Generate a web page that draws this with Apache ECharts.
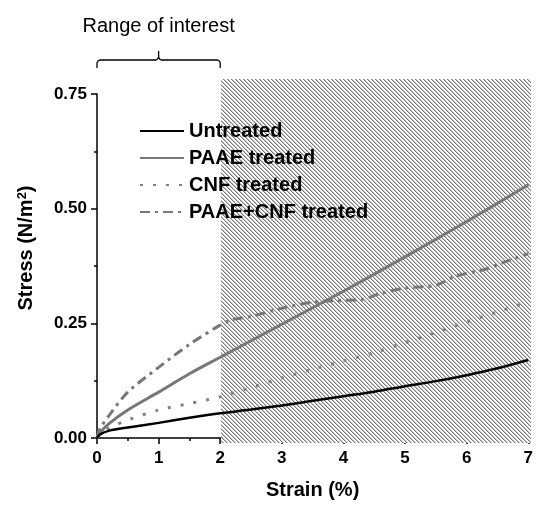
<!DOCTYPE html>
<html>
<head>
<meta charset="utf-8">
<script src="https://cdn.jsdelivr.net/npm/echarts@6/dist/echarts.min.js"></script>
<style>
  html, body { margin: 0; padding: 0; background: #fff; }
  #chart { width: 536px; height: 505px; }
</style>
</head>
<body>
<div id="chart"></div>
<script>
// strain (%) , stress (N/m2) pairs
const untreated = [[0,0],[0.05,0.008],[0.2,0.016],[0.5,0.023],[1,0.033],[1.5,0.044],[2,0.054],[2.5,0.062],[3,0.071],[3.5,0.081],[4,0.091],[4.5,0.101],[5,0.113],[5.5,0.124],[6,0.137],[6.5,0.152],[7,0.170]]
const paae = [[0,0],[0.05,0.012],[0.2,0.032],[0.5,0.061],[1,0.100],[1.5,0.140],[2,0.176],[3,0.248],[4,0.320],[5,0.395],[6,0.472],[7,0.552]]
const cnf = [[0,0],[0.05,0.008],[0.2,0.022],[0.5,0.039],[1,0.061],[1.5,0.075],[2,0.090],[2.5,0.110],[3,0.131],[3.5,0.150],[4,0.168],[4.5,0.186],[5,0.208],[5.5,0.230],[6,0.253],[6.5,0.275],[7,0.297]]
const paaeCnf = [[0,0],[0.05,0.02],[0.2,0.05],[0.5,0.100],[1,0.154],[1.5,0.204],[2,0.246],[2.2,0.258],[2.5,0.265],[3,0.283],[3.5,0.296],[4,0.300],[4.3,0.302],[4.6,0.315],[5,0.327],[5.5,0.333],[5.8,0.352],[6.3,0.368],[6.6,0.383],[7,0.402]]
const seriesNames = ['Untreated', 'PAAE treated', 'CNF treated', 'PAAE+CNF treated']
const interestRange = [0, 2]
const shadedRange = [2, 7]

const font = 'Arial, "Liberation Sans", sans-serif'

// diagonal hatch tile
function hatch() {
    const c = document.createElement('canvas')
    c.width = 4; c.height = 4
    const ctx = c.getContext('2d')
    ctx.fillStyle = '#fff'
    ctx.fillRect(0, 0, 4, 4)
    for (let i = 0; i < 4; i++) {
        ctx.fillStyle = '#7a7a7a'
        ctx.fillRect(i, i, 1, 1)
        ctx.fillStyle = '#c4c4c4'
        ctx.fillRect((i + 1) % 4, i, 1, 1)
    }
    return c
}

const chart = echarts.init(document.getElementById('chart'))
const axisLabel = { color: '#000', fontWeight: 'bold', fontSize: 17, fontFamily: font }

chart.setOption({
    animation: false,
    legend: {
        data: seriesNames,
        orient: 'vertical',
        left: 134,
        top: 116,
        itemWidth: 44,
        itemHeight: 14,
        itemGap: 7,
        itemStyle: { opacity: 0 },
        textStyle: { color: '#000', fontWeight: 'bold', fontSize: 20, lineHeight: 20, fontFamily: font }
    },
    grid: [
        { left: 97, right: 5, top: 94, bottom: 62 },
        { left: 97, right: 5, top: 79, bottom: 62 }
    ],
    xAxis: [{
        type: 'value',
        min: 0,
        max: 7,
        interval: 1,
        name: 'Strain (%)',
        nameLocation: 'middle',
        nameGap: 42,
        nameTextStyle: { color: '#000', fontWeight: 'bold', fontSize: 20, fontFamily: font },
        axisLine: { lineStyle: { color: '#000', width: 1.5 } },
        axisTick: { lineStyle: { color: '#000', width: 1.5 }, length: 6 },
        minorTick: { show: true, splitNumber: 2, length: 3, lineStyle: { color: '#000', width: 1.5 } },
        axisLabel: Object.assign({ margin: 12 }, axisLabel),
        splitLine: { show: false }
    }, {
        gridIndex: 1, type: 'value', min: 0, max: 7, show: false
    }],
    yAxis: [{
        type: 'value',
        min: 0,
        max: 0.75,
        interval: 0.25,
        name: 'Stress (N/m{sup|2})',
        nameLocation: 'middle',
        nameGap: 60,
        nameTextStyle: {
            color: '#000', fontWeight: 'bold', fontSize: 20, fontFamily: font, padding: [0, 0, 0, 36],
            rich: { sup: { color: '#000', fontWeight: 'bold', fontSize: 13, fontFamily: font, verticalAlign: 'top', padding: [0, 0, 8, 0] } }
        },
        axisLine: { show: true, lineStyle: { color: '#000', width: 1.5 } },
        axisTick: { show: true, lineStyle: { color: '#000', width: 1.5 }, length: 6 },
        minorTick: { show: true, splitNumber: 2, length: 3, lineStyle: { color: '#000', width: 1.5 } },
        axisLabel: Object.assign({ formatter: v => v.toFixed(2), margin: 10 }, axisLabel),
        splitLine: { show: false }
    }, {
        gridIndex: 1, type: 'value', min: 0, max: 1, show: false
    }],
    series: [
        {
            type: 'line',
            xAxisIndex: 1,
            yAxisIndex: 1,
            data: [],
            z: 1,
            silent: true,
            markArea: {
                silent: true,
                itemStyle: { color: { image: hatch(), repeat: 'repeat' }, opacity: 1 },
                data: [[{ xAxis: shadedRange[0], yAxis: 0 }, { xAxis: shadedRange[1], yAxis: 1 }]]
            }
        },
        {
            name: seriesNames[0], type: 'line', data: untreated, symbol: 'none', smooth: 0.3, z: 5,
            lineStyle: { color: '#000', width: 2.5 }, itemStyle: { color: '#000' }
        },
        {
            name: seriesNames[1], type: 'line', data: paae, symbol: 'none', smooth: 0.3, z: 4,
            lineStyle: { color: '#777', width: 3 }, itemStyle: { color: '#777' }
        },
        {
            name: seriesNames[2], type: 'line', data: cnf, symbol: 'none', smooth: 0.3, z: 4,
            lineStyle: { color: '#808080', width: 3, type: [3, 10] }, itemStyle: { color: '#808080' }
        },
        {
            name: seriesNames[3], type: 'line', data: paaeCnf, symbol: 'none', smooth: 0.3, z: 4,
            lineStyle: { color: '#777', width: 3, type: [10, 5, 3, 5] }, itemStyle: { color: '#777' }
        }
    ]
})

// "Range of interest" bracket over strain 0..2
const a = chart.convertToPixel({ xAxisIndex: 0, yAxisIndex: 0 }, [interestRange[0], 0.75])[0]
const b = chart.convertToPixel({ xAxisIndex: 0, yAxisIndex: 0 }, [interestRange[1], 0.75])[0]
const mid = (a + b) / 2
const yb = 60
const bracket = [
    [a, yb + 8], [a, yb + 3], [a + 1, yb + 1], [a + 3, yb],
    [mid - 3, yb], [mid - 1, yb - 1], [mid, yb - 3], [mid, yb - 9],
    [mid, yb - 3], [mid + 1, yb - 1], [mid + 3, yb],
    [b - 3, yb], [b - 1, yb + 1], [b, yb + 3], [b, yb + 8]
]
chart.setOption({
    graphic: [
        {
            type: 'polyline',
            shape: { points: bracket },
            style: { fill: null, stroke: '#000', lineWidth: 1.3 }
        },
        {
            type: 'text',
            x: mid,
            y: 26,
            style: {
                text: 'Range of interest',
                fill: '#000',
                font: '20px ' + font,
                textAlign: 'center',
                textVerticalAlign: 'middle'
            }
        }
    ]
})
</script>
</body>
</html>
